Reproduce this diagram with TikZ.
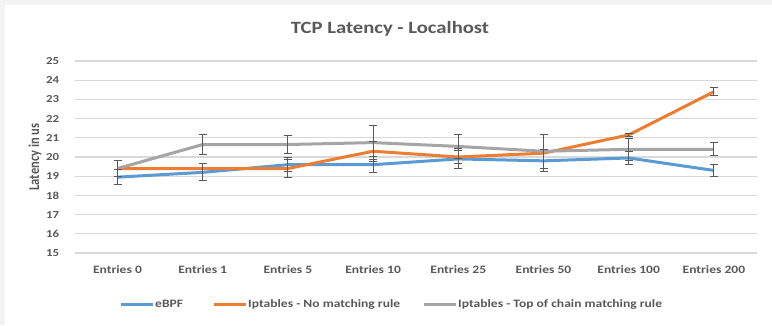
\documentclass[tikz,border=0pt]{standalone}
\usepackage{fontspec}
\setmainfont{Carlito}
\usetikzlibrary{arrows.meta}

\definecolor{ebpfblue}{HTML}{5B9BD5}
\definecolor{iptorange}{HTML}{ED7D31}
\definecolor{iptgray}{HTML}{A5A5A5}
\definecolor{gridgray}{HTML}{D9D9D9}
\definecolor{textgray}{HTML}{595959}
\definecolor{edgegray}{HTML}{F3F3F3}

\begin{document}
\begin{tikzpicture}[x=1pt, y=1pt,
  every node/.style={text=textgray, font=\bfseries, inner sep=0pt, xscale=1.2},
  gridline/.style={gridgray, line width=1.2pt},
  series/.style={line width=3pt, line join=round},
  errbar/.style={textgray, line width=1pt, {Bar[width=8pt]}-{Bar[width=8pt]}},
  ticklab/.style={anchor=east, font=\bfseries\fontsize{10.7}{12}\selectfont},
  catlab/.style={font=\bfseries\fontsize{11.3}{13}\selectfont},
  leglab/.style={anchor=west, font=\bfseries\fontsize{11.3}{13}\selectfont}]

\useasboundingbox (0,0) rectangle (772,325);
\fill [edgegray] (0,0) rectangle (772,325);
\fill [white] (5,0) rectangle (772,320);

\node [font=\bfseries\fontsize{17.2}{20}\selectfont] (title) at (390,296) {TCP Latency - Localhost};
\node [rotate=90, font=\bfseries\fontsize{12.5}{14}\selectfont] (ytitle) at (35,168) {Latency in us};

\begin{scope}[shift={(117.5,-216)}, x=85.2pt, y=19.2pt]

% grid and axis labels
\foreach \v in {15,...,25} {
  \draw [gridline] (-0.5,\v) -- (7.5,\v);
  \node [ticklab, xshift=-13pt] (tick\v) at (-0.5,\v) {\v};
}
\foreach \i/\n in {0/0,1/1,2/5,3/10,4/25,5/50,6/100,7/200}
  \node [catlab, yshift=-17pt] (cat\i) at (\i,15) {Entries \n};

% the three series
\draw [series, ebpfblue] plot coordinates {(0,18.95) (1,19.2) (2,19.6) (3,19.6) (4,19.9) (5,19.8) (6,19.95) (7,19.3)};
\draw [series, iptorange] plot coordinates {(0,19.4) (1,19.4) (2,19.4) (3,20.3) (4,20.0) (5,20.2) (6,21.15) (7,23.4)};
\draw [series, iptgray] plot coordinates {(0,19.4) (1,20.65) (2,20.65) (3,20.75) (4,20.55) (5,20.3) (6,20.4) (7,20.4)};

% error bars
\foreach \i/\m/\e in {0/18.95/0.4, 1/19.2/0.47, 2/19.6/0.4, 3/19.6/0.45, 4/19.9/0.55, 5/19.8/0.6, 6/19.95/0.35, 7/19.3/0.35}
  \draw [errbar] (\i,{\m-\e}) -- (\i,{\m+\e});
\foreach \i/\m/\e in {2/19.4/0.5, 3/20.3/0.55, 4/20.0/0.36, 6/21.15/0.12, 7/23.4/0.22}
  \draw [errbar] (\i,{\m-\e}) -- (\i,{\m+\e});
\foreach \i/\m/\e in {0/19.4/0.42, 1/20.65/0.55, 2/20.65/0.5, 3/20.75/0.9, 4/20.55/0.65, 5/20.3/0.9, 6/20.4/0.6, 7/20.4/0.37}
  \draw [errbar] (\i,{\m-\e}) -- (\i,{\m+\e});
\end{scope}

% legend
\draw [series, ebpfblue] (121,21) -- (153,21);
\node [leglab] (legebpf) at (155,21) {eBPF};
\draw [series, iptorange] (214,21) -- (246,21);
\node [leglab] (legnomatch) at (248,21) {Iptables - No matching rule};
\draw [series, iptgray] (424,21) -- (456,21);
\node [leglab] (legtop) at (458,21) {Iptables - Top of chain matching rule};
\end{tikzpicture}
\end{document}
